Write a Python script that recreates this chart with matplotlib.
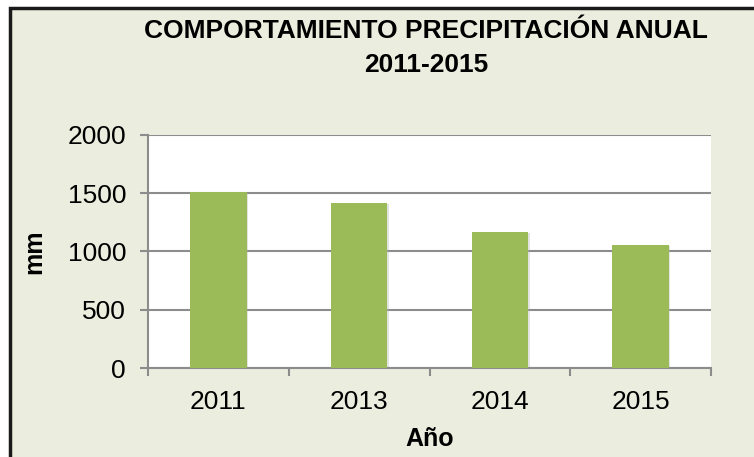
import matplotlib

matplotlib.use("Agg")
import matplotlib.pyplot as plt
from matplotlib.patches import Rectangle

years = ["2011", "2013", "2014", "2015"]
rain_mm = [1505, 1412, 1163, 1054]
y_ticks = [0, 500, 1000, 1500, 2000]

BG = "#EBEEDE"
BAR = "#9BBB59"
GRID = "#8C8C8C"

plt.rcParams["font.family"] = ["Liberation Sans", "DejaVu Sans"]

W, H = 754, 457
fig = plt.figure(figsize=(W / 100, H / 100), dpi=100, facecolor="white")

# chart frame: only the left and top edges fall inside the picture
fig.patches.append(Rectangle((10 / W, -0.1), 1.2, 1.1 - 8 / H, transform=fig.transFigure,
                             facecolor=BG, edgecolor="#1a1a1a", linewidth=2.5, zorder=-5))

ax = fig.add_axes([148 / W, 1 - 368 / H, (711 - 148) / W, (368 - 134.7) / H])
ax.set_facecolor("white")

x = range(len(years))
# soft shadow behind each bar
ax.bar([i + 0.012 for i in x], [v - 5 for v in rain_mm], width=0.4, color="#b0b0b0",
       zorder=2, alpha=0.35)
ax.bar(x, rain_mm, width=0.4, color=BAR, zorder=3)

ax.set_xlim(-0.5, len(years) - 0.5)
ax.set_ylim(0, 2000)
ax.set_yticks(y_ticks)
ax.set_xticks(list(x))
ax.set_xticklabels(years)
ax.set_xticks([i - 0.5 for i in range(len(years) + 1)], minor=True)

ax.yaxis.grid(True, color=GRID, linewidth=1.5, zorder=1)
ax.set_axisbelow(True)
for side in ("top", "right"):
    ax.spines[side].set_visible(False)
for side in ("left", "bottom"):
    ax.spines[side].set_color(GRID)
    ax.spines[side].set_linewidth(1.5)

ax.tick_params(axis="y", length=5.8, width=1.5, color=GRID, labelsize=19, pad=10)
ax.tick_params(axis="x", which="major", length=0, labelsize=19, pad=16)
ax.tick_params(axis="x", which="minor", length=5.5, width=1.5, color=GRID)

ax.set_ylabel("mm", fontsize=18, fontweight="bold", labelpad=15)
ax.set_xlabel("Año", fontsize=18, fontweight="bold", labelpad=9)

fig.text(426 / W, 1 - 48 / H, "COMPORTAMIENTO PRECIPITACIÓN ANUAL\n2011-2015",
         ha="center", va="center", fontsize=19, fontweight="bold", linespacing=1.5)

fig.savefig("out.png", dpi=100, facecolor="white")
